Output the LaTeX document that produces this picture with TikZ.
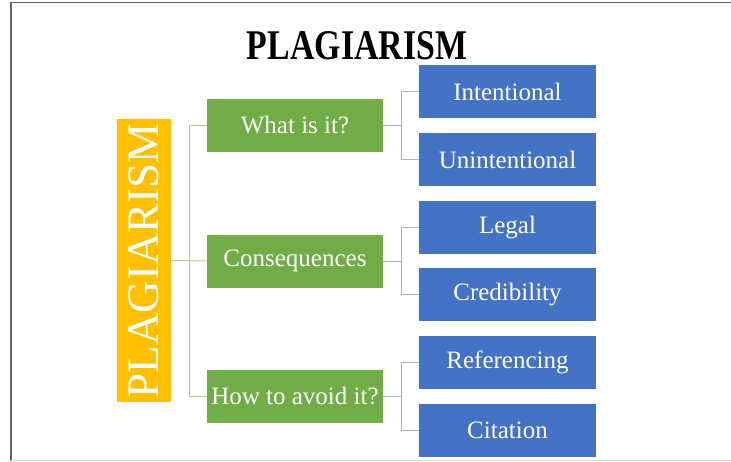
\documentclass[tikz,border=0pt]{standalone}
\usepackage{fontspec}
\setmainfont{Liberation Serif}
\definecolor{plagorange}{HTML}{FFC000}
\definecolor{askgreen}{HTML}{70AD47}
\definecolor{itemblue}{HTML}{4472C4}
\definecolor{trunkline}{HTML}{A9D18E}
\definecolor{branchline}{HTML}{9DB4E0}
\tikzset{
  topic/.style={fill=askgreen, text=white, minimum width=176pt, minimum height=53pt,
    inner sep=0pt, font=\fontsize{25}{30}\selectfont},
  leaf/.style={fill=itemblue, text=white, minimum width=177pt, minimum height=53pt,
    inner sep=0pt, font=\fontsize{25}{30}\selectfont},
  trunk/.style={draw=trunkline, line width=1pt},
  branch/.style={draw=branchline, line width=1pt}
}
\begin{document}
\begin{tikzpicture}[x=1pt,y=-1pt]
  \useasboundingbox (0,0) rectangle (731,461);
  \draw[gray!80!black, line width=1.5pt] (10,2.5) -- (731,2.5);
  \draw[gray!80!black, line width=1.5pt] (11,2.5) -- (11,461);
  \draw[gray!30, line width=1pt] (11,460) -- (731,460);

  \node (title) at (357,46) {\resizebox{220pt}{28pt}{\bfseries PLAGIARISM}};

  \node[fill=plagorange, text=white, rotate=90, minimum width=283pt, minimum height=54pt,
    inner sep=0pt, font=\fontsize{45}{50}\selectfont] (plag) at (144,260.5) {PLAGIARISM};

  \node[topic] (what) at (295,125.5) {What is it?};
  \node[topic] (cons) at (295,261) {Consequences};
  \node[topic] (avoid) at (295,396) {How to avoid it?};

  \node[leaf] (intent) at (507.5,91.5) {Intentional};
  \node[leaf] (unintent) at (507.5,159.5) {Unintentional};
  \node[leaf] (legal) at (507.5,227.5) {Legal};
  \node[leaf] (cred) at (507.5,294.5) {Credibility};
  \node[leaf] (ref) at (507.5,362.5) {Referencing};
  \node[leaf] (cite) at (507.5,430) {Citation};

  \path[trunk] (plag.south) -- ++(18,0) |- (what.west);
  \path[trunk] (plag.south) -- (cons.west);
  \path[trunk] (plag.south) -- ++(18,0) |- (avoid.west);

  \path[branch] (what.east) -- ++(18,0) |- (intent.west);
  \path[branch] (what.east) -- ++(18,0) |- (unintent.west);
  \path[branch] (cons.east) -- ++(18,0) |- (legal.west);
  \path[branch] (cons.east) -- ++(18,0) |- (cred.west);
  \path[branch] (avoid.east) -- ++(18,0) |- (ref.west);
  \path[branch] (avoid.east) -- ++(18,0) |- (cite.west);

\end{tikzpicture}
\end{document}
